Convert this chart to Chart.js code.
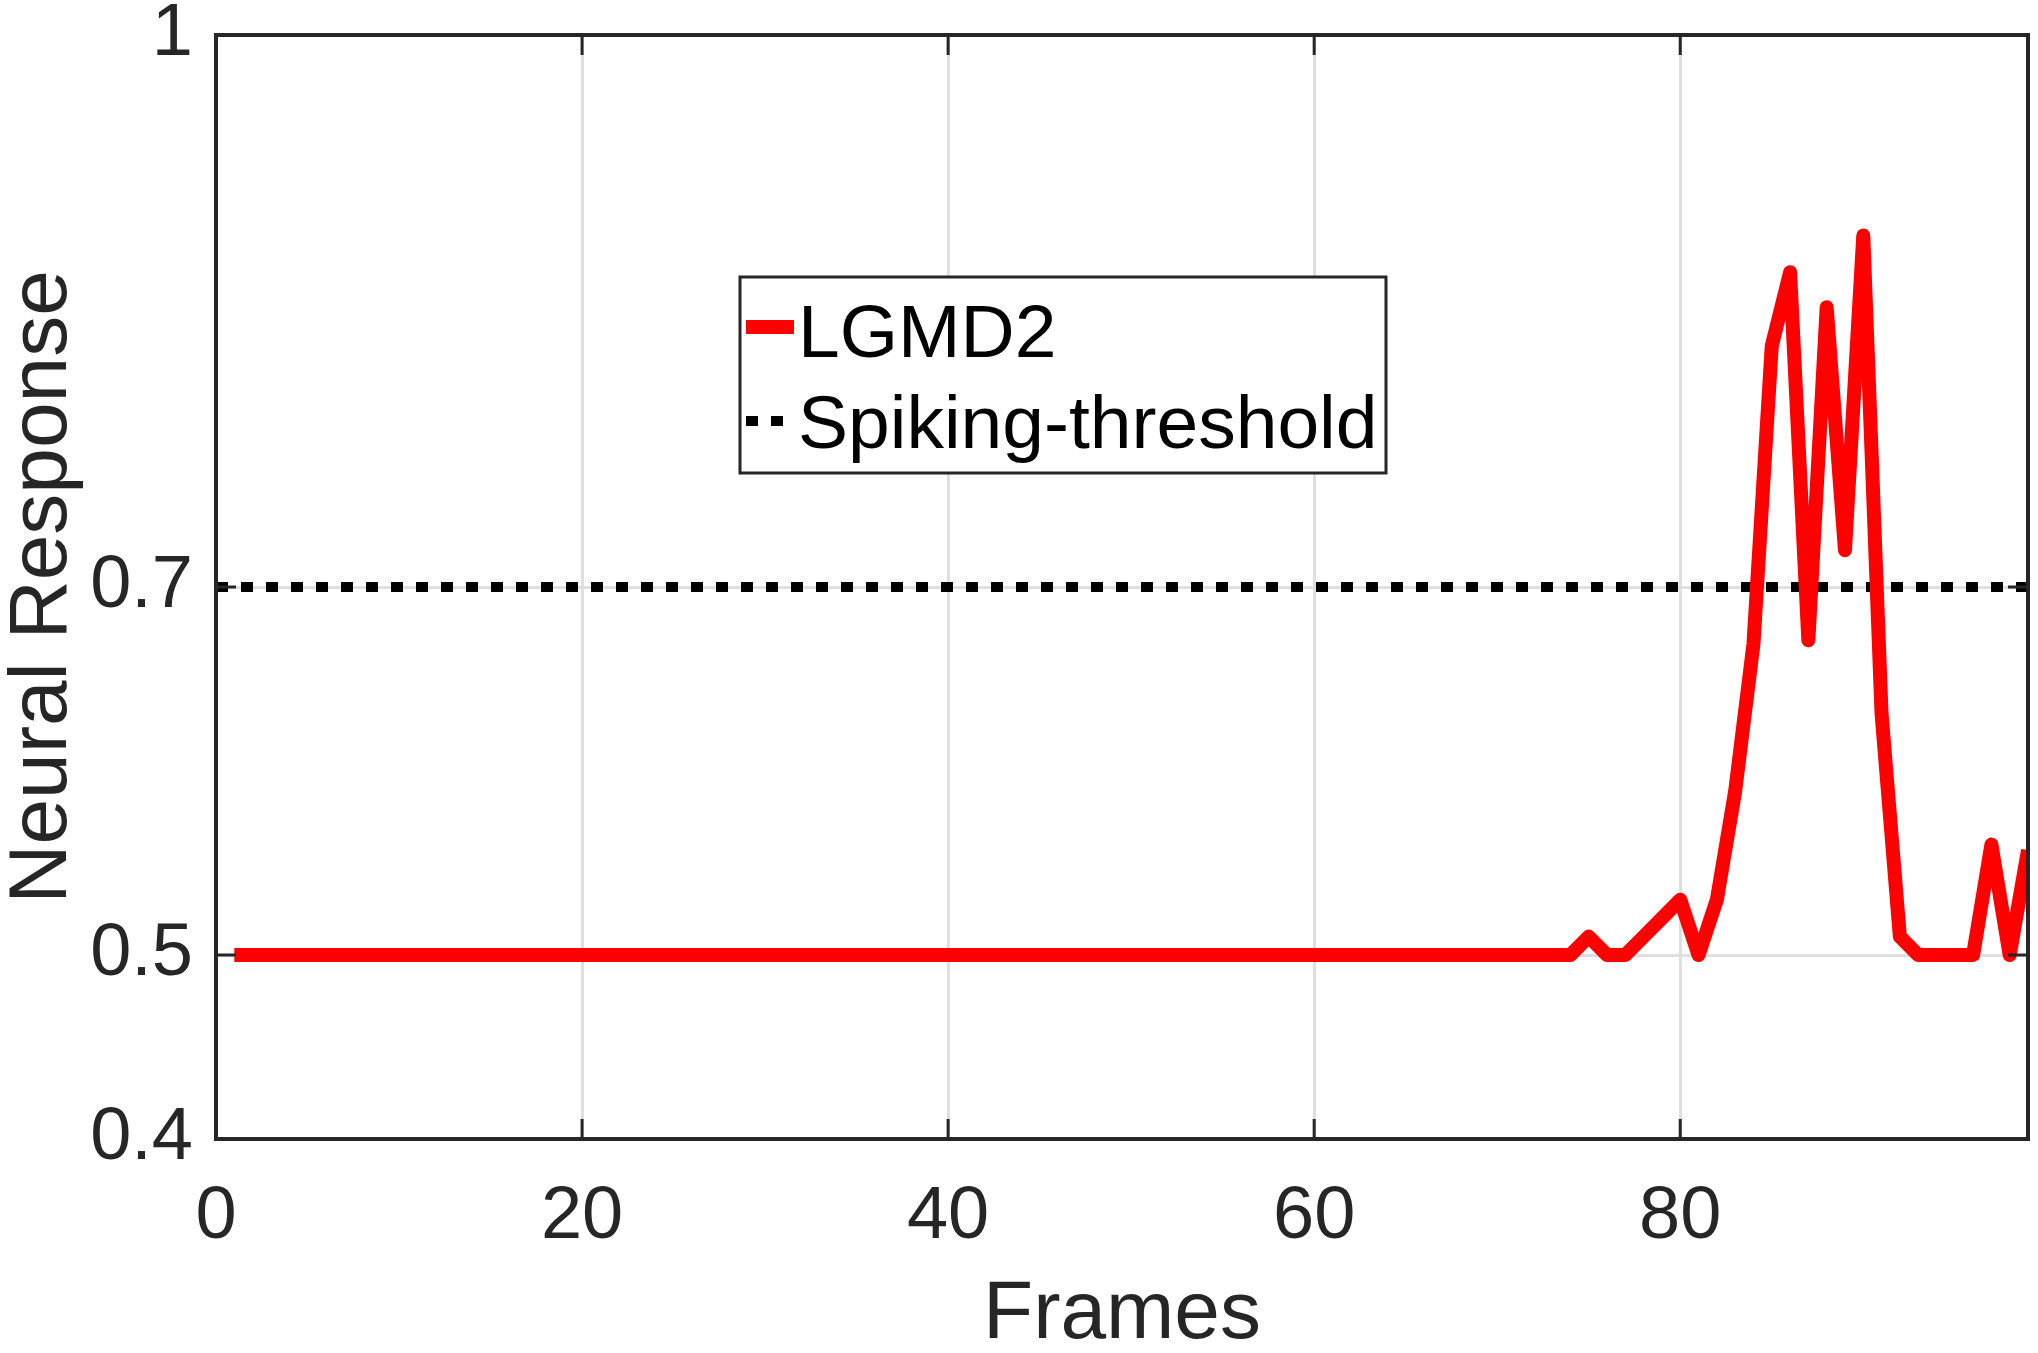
<!DOCTYPE html>
<html>
<head>
<meta charset="utf-8">
<title>Neural Response</title>
<script src="https://cdn.jsdelivr.net/npm/chart.js@4.4.0/dist/chart.umd.min.js"></script>
<style>
  html, body { margin: 0; padding: 0; background: #fff; }
  #wrap { width: 2038px; height: 1353px; position: relative; }
</style>
</head>
<body>
<div id="wrap"><canvas id="response-chart"></canvas></div>
<script>
// LGMD2 output per frame (frames 1..99)
const lgmd2 = [
  0.5, 0.5, 0.5, 0.5, 0.5, 0.5, 0.5, 0.5, 0.5, 0.5,
  0.5, 0.5, 0.5, 0.5, 0.5, 0.5, 0.5, 0.5, 0.5, 0.5,
  0.5, 0.5, 0.5, 0.5, 0.5, 0.5, 0.5, 0.5, 0.5, 0.5,
  0.5, 0.5, 0.5, 0.5, 0.5, 0.5, 0.5, 0.5, 0.5, 0.5,
  0.5, 0.5, 0.5, 0.5, 0.5, 0.5, 0.5, 0.5, 0.5, 0.5,
  0.5, 0.5, 0.5, 0.5, 0.5, 0.5, 0.5, 0.5, 0.5, 0.5,
  0.5, 0.5, 0.5, 0.5, 0.5, 0.5, 0.5, 0.5, 0.5, 0.5,
  0.5, 0.5, 0.5, 0.5, 0.51, 0.5, 0.5, 0.51, 0.52, 0.53,
  0.5, 0.53, 0.589, 0.669, 0.831, 0.871, 0.671, 0.852, 0.72, 0.891,
  0.631, 0.51, 0.5, 0.5, 0.5, 0.5, 0.56, 0.5, 0.557
];
const threshold = 0.7;
const seriesNames = ["LGMD2", "Spiking-threshold"];
const xTicks = [0, 20, 40, 60, 80];
const yTicks = [0.4, 0.5, 0.7, 1];
const xRange = [0, 99];
const yRange = [0.4, 1];

const axisColor = "#262626";
const fontFamily = "'Liberation Sans', Arial, Helvetica, sans-serif";

const lgmdPoints = lgmd2.map((v, i) => ({ x: i + 1, y: v }));
const thresholdPoints = [{ x: xRange[0], y: threshold }, { x: xRange[1], y: threshold }];

// box, inward ticks and legend like the matlab figure
const matlabBox = {
  id: "matlabBox",
  afterDatasetsDraw(chart) {
    const ctx = chart.ctx;
    const a = chart.chartArea;
    const xs = chart.scales.x, ys = chart.scales.y;
    ctx.save();
    ctx.strokeStyle = axisColor;
    ctx.lineWidth = 3;
    ctx.beginPath();
    xTicks.forEach(v => {
      const x = xs.getPixelForValue(v);
      ctx.moveTo(x, a.bottom); ctx.lineTo(x, a.bottom - 20);
      ctx.moveTo(x, a.top); ctx.lineTo(x, a.top + 20);
    });
    yTicks.forEach(v => {
      const y = ys.getPixelForValue(v);
      ctx.moveTo(a.left, y); ctx.lineTo(a.left + 20, y);
      ctx.moveTo(a.right, y); ctx.lineTo(a.right - 20, y);
    });
    ctx.stroke();
    ctx.lineWidth = 4;
    ctx.strokeRect(a.left, a.top, a.width, a.height);

    // legend
    const lx = 740, ly = 277, lw = 646, lh = 196;
    ctx.fillStyle = "#fff";
    ctx.fillRect(lx, ly, lw, lh);
    ctx.lineWidth = 3;
    ctx.strokeStyle = axisColor;
    ctx.strokeRect(lx, ly, lw, lh);
    const rows = [327, 421];
    const textShift = [9, 6];
    chart.data.datasets.forEach((ds, i) => {
      ctx.save();
      ctx.strokeStyle = ds.borderColor;
      ctx.lineWidth = ds.borderWidth;
      ctx.setLineDash(ds.borderDash || []);
      ctx.beginPath();
      ctx.moveTo(746, rows[i]);
      ctx.lineTo(794, rows[i]);
      ctx.stroke();
      ctx.restore();
      ctx.fillStyle = "#000";
      ctx.font = "75px " + fontFamily;
      ctx.textBaseline = "middle";
      ctx.textAlign = "left";
      ctx.fillText(ds.label, 798, rows[i] + textShift[i]);
    });
    ctx.restore();
  }
};

new Chart(document.getElementById("response-chart"), {
  type: "line",
  data: {
    datasets: [
      {
        label: seriesNames[0],
        data: lgmdPoints,
        borderColor: "#ff0000",
        borderWidth: 14,
        borderJoinStyle: "round",
        pointRadius: 0,
        fill: false,
        clip: 0
      },
      {
        label: seriesNames[1],
        data: thresholdPoints,
        borderColor: "#000000",
        borderWidth: 10,
        borderDash: [12, 13],
        pointRadius: 0,
        fill: false,
        clip: 0
      }
    ]
  },
  options: {
    responsive: true,
    maintainAspectRatio: false,
    animation: false,
    devicePixelRatio: 1,
    layout: { padding: { top: 35, right: 10, left: 0, bottom: 0 } },
    plugins: {
      legend: { display: false },
      tooltip: { enabled: false }
    },
    scales: {
      x: {
        type: "linear",
        min: xRange[0],
        max: xRange[1],
        afterBuildTicks: s => { s.ticks = xTicks.map(v => ({ value: v })); },
        afterFit: s => { s.height = 214; s.paddingLeft = 0; s.paddingRight = 0; },
        border: { display: false },
        grid: { color: "#dfdfdf", lineWidth: 3, drawTicks: false },
        ticks: {
          color: axisColor,
          padding: 34,
          maxRotation: 0,
          font: { family: fontFamily, size: 74 }
        },
        title: {
          display: true,
          text: "Frames",
          color: axisColor,
          padding: { top: 0, bottom: -12 },
          font: { family: fontFamily, size: 82 }
        }
      },
      y: {
        type: "linear",
        min: yRange[0],
        max: yRange[1],
        afterBuildTicks: s => { s.ticks = yTicks.map(v => ({ value: v })); },
        afterFit: s => { s.width = 216; s.paddingTop = 0; s.paddingBottom = 0; },
        border: { display: false },
        grid: { color: "#dfdfdf", lineWidth: 3, drawTicks: false },
        ticks: {
          color: axisColor,
          padding: 23,
          font: { family: fontFamily, size: 74 },
          callback: v => String(v)
        },
        title: {
          display: true,
          text: "Neural Response",
          color: axisColor,
          padding: { top: -6, bottom: 0 },
          font: { family: fontFamily, size: 82 }
        }
      }
    }
  },
  plugins: [matlabBox]
});
</script>
</body>
</html>
